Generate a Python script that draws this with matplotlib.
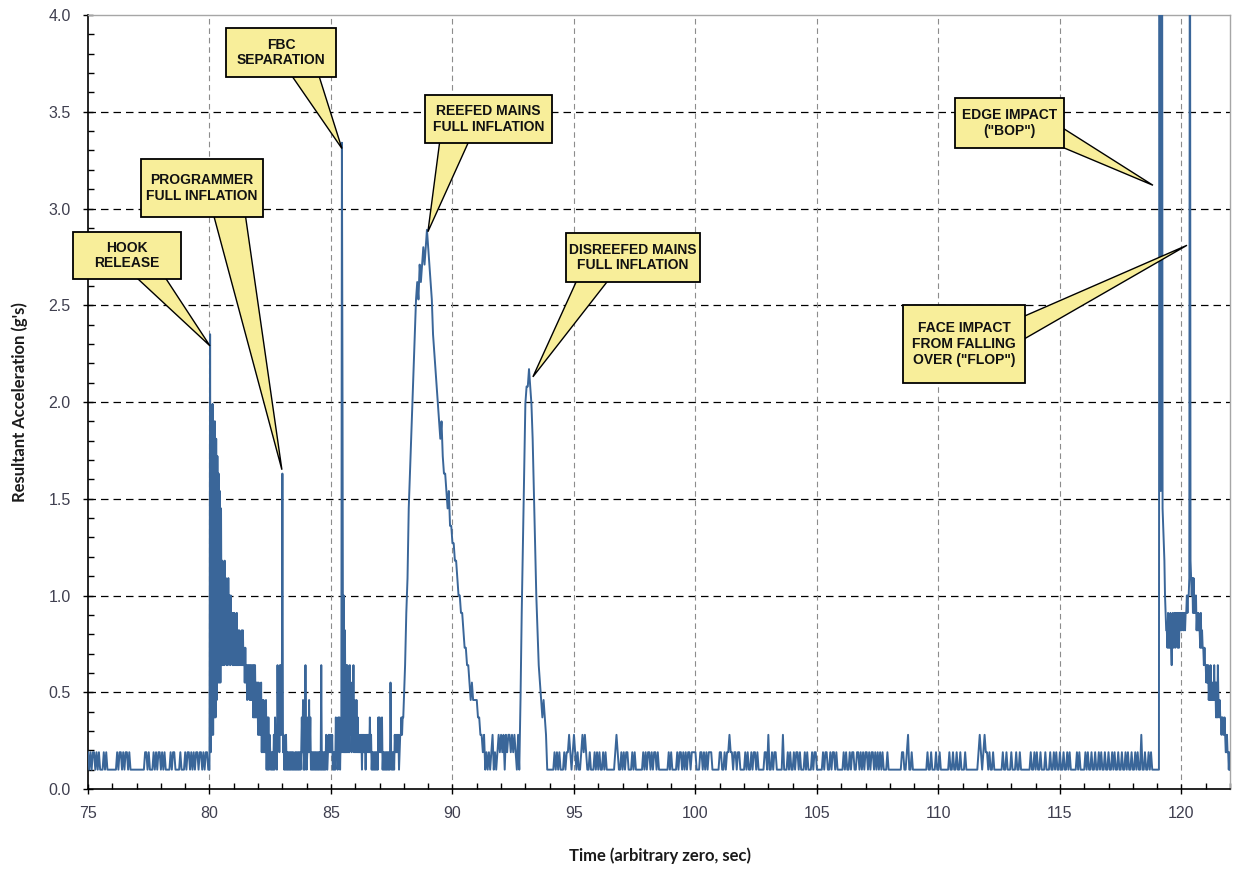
import numpy as np
import matplotlib
matplotlib.use("Agg")
import matplotlib.pyplot as plt
from matplotlib.patches import Rectangle, Polygon
from matplotlib.ticker import MultipleLocator

# ---------------- data ----------------
# Signal. Each segment starts at seg_start_times[i] and is
# sampled every seg_dt[i] seconds. Each character is a quantised level:
# value = LEVEL_BASE + LEVEL_STEP * LEVEL_CODES.index(char)
LEVEL_CODES = "0123456789abcdefghijklmnopqrstuvwxyzABCDEFGHIJKLMNOPQRSTUVWXYZ"
LEVEL_BASE = 0.10
LEVEL_STEP = 0.09

seg_start_times = [75.0, 80.0, 88.0, 90.0, 95.0, 100.0, 105.0, 110.0, 115.0, 119.0]
seg_dt = [0.05, 0.025, 0.05, 0.05, 0.05, 0.05, 0.05, 0.05, 0.05, 0.025]

seg_075 = ("1010110101 0001010000 0000101101 0110100000 0000000110 "
           "1000101011 0101000010 1100001000 1011010101 1011010110")
seg_080 = ("0p1k2l2k3k3j4i5h5g5f 6c6b6c7b6a6b7a6a7969 69686968686768686757 "
           "56465646464636363535 25242514141314030302 10101020311062516262 "
           "h1201020101010101010 01010101010131401061 01314130101010101010 "
           "10106010101021012121 212010103120313021Al 1a181616151625142614 "
           "31413121212021212021 21213120101010101031 31213010101010101051 "
           "01010212121201223233")
seg_088 = ("469bfhjlnp rsrtstutuv utsrponmlk jkihhgfgee")
seg_090 = ("ddccbaa998 7766545444 4332212010 1012010121 2120212212 "
           "12102049dh lmmnmljgda 8654343200 0000101010 0010112101")
seg_095 = ("2101001212 1001000101 0100101000 0000121001 0101100010 "
           "1000000101 0110101101 0000000010 1000010110 1010110111")
seg_100 = ("1000110101 0111000000 1100101121 1011011000 0101001011 "
           "0100000110 2001011000 0020001010 0101101000 1010001011")
seg_105 = ("0000010110 0101101000 0010100101 1001101010 1101011010 "
           "1010100010 0000000000 1100120010 0000000000 0100100010")
seg_110 = ("0100000001 0010010010 0010000000 0001210121 1010010000 "
           "0001001000 1000100100 0000001001 0100100010 0010010100")
seg_115 = ("1001001010 0000101000 0101001001 0010100100 1001010010 "
           "0100101001 0010100200 1001010000")
seg_119 = ("0000ZigiZfedca988797 87976897897989797989 899899899a9aabZcbab9 "
           "b9a9a898988797877676 65656454645454645353 64343323322321121101 0")

segments = [seg_075, seg_080, seg_088, seg_090, seg_095,
            seg_100, seg_105, seg_110, seg_115, seg_119]

x_ticks = [75, 80, 85, 90, 95, 100, 105, 110, 115, 120]
y_ticks = [0.0, 0.5, 1.0, 1.5, 2.0, 2.5, 3.0, 3.5, 4.0]

callout_texts = ["HOOK\nRELEASE",
                 "PROGRAMMER\nFULL INFLATION",
                 "FBC\nSEPARATION",
                 "REEFED MAINS\nFULL INFLATION",
                 "DISREEFED MAINS\nFULL INFLATION",
                 "EDGE IMPACT\n(\"BOP\")",
                 "FACE IMPACT\nFROM FALLING\nOVER (\"FLOP\")"]
# event points the callouts point to (time, g)
callout_tips = [(80.02, 2.29), (82.98, 1.65), (85.45, 3.31), (88.99, 2.88),
                (93.31, 2.13), (118.83, 3.12), (120.23, 2.81)]

# ---------------- decode ----------------
times, values = [], []
for start, dt, codes in zip(seg_start_times, seg_dt, segments):
    codes = codes.replace(" ", "")
    for i, c in enumerate(codes):
        times.append(start + dt * i)
        values.append(LEVEL_BASE + LEVEL_STEP * LEVEL_CODES.index(c))
times = np.array(times)
values = np.array(values)

# ---------------- figure ----------------
W, H = 1233, 869
fig = plt.figure(figsize=(W / 100, H / 100), dpi=100)
ax = fig.add_axes([88 / W, 1 - 789 / H, (1230 - 88) / W, (789 - 15) / H])

LINE_COLOR = "#3a6699"
ax.plot(times, values, color=LINE_COLOR, lw=1.4, zorder=3)

ax.set_xlim(75, 122)
ax.set_ylim(0, 4)
ax.xaxis.set_minor_locator(MultipleLocator(1))
ax.yaxis.set_minor_locator(MultipleLocator(0.1))
ax.set_xticks(x_ticks)
ax.set_xticklabels([str(v) for v in x_ticks])
ax.set_yticks(y_ticks)
ax.set_yticklabels([f"{v:.1f}" for v in y_ticks])

TICK_COLOR = "#3f3f4f"
ax.tick_params(axis="x", which="major", direction="inout", length=7, width=1,
               pad=9, labelsize=11.5, labelcolor=TICK_COLOR)
ax.tick_params(axis="y", which="major", direction="inout", length=7, width=1,
               pad=9, labelsize=11.5, labelcolor=TICK_COLOR)
ax.tick_params(which="minor", direction="in", length=4, width=1)
for lab in ax.get_xticklabels() + ax.get_yticklabels():
    lab.set_family("Liberation Sans")

# grid
for v in y_ticks[1:-1]:
    ax.axhline(v, color="black", lw=0.9, ls=(0, (6, 4)), zorder=1)
for v in x_ticks[1:]:
    ax.axvline(v, color="#8c8c8c", lw=0.8, ls=(0, (5, 3.5)), zorder=1)

for side in ("left", "bottom"):
    ax.spines[side].set_color("black")
    ax.spines[side].set_linewidth(1.2)
for side in ("top", "right"):
    ax.spines[side].set_color("#a6a6a6")
    ax.spines[side].set_linewidth(1.0)

ax.set_xlabel("Time (arbitrary zero, sec)", fontsize=12, fontweight="bold",
              family="Lato", color="#1a1a1a")
ax.set_ylabel("Resultant Acceleration (g's)", fontsize=12, fontweight="bold",
              family="Lato", color="#1a1a1a")
ax.xaxis.set_label_coords(0.5005, -0.075)
ax.yaxis.set_label_coords(-0.0525, 0.5)

# ---------------- callouts ----------------
FILL = "#f8ee9a"
# box: (x0, x1, y0, y1) in data coords; wedge base points in data coords
callout_boxes = [(74.38, 78.83, 2.636, 2.879),
                 (77.18, 82.20, 2.956, 3.256),
                 (80.68, 85.21, 3.680, 3.933),
                 (88.87, 94.09, 3.339, 3.587),
                 (94.67, 100.19, 2.620, 2.873),
                 (110.68, 115.16, 3.313, 3.571),
                 (108.54, 113.56, 2.098, 2.501)]
wedge_bases = [((76.85, 2.66), (78.09, 2.66)),
               ((80.14, 2.98), (81.46, 2.98)),
               ((83.31, 3.70), (84.47, 3.70)),
               ((89.49, 3.36), (90.72, 3.36)),
               ((95.16, 2.64), (96.48, 2.64)),
               ((115.05, 3.421), (114.85, 3.33)),
               ((113.45, 2.439), (113.45, 2.32))]

for text, tip, box, base in zip(callout_texts, callout_tips, callout_boxes, wedge_bases):
    wedge = Polygon([base[0], tip, base[1]], closed=True, fc=FILL, ec="black",
                    lw=1.0, zorder=5, clip_on=False, joinstyle="miter")
    ax.add_patch(wedge)
    x0, x1, y0, y1 = box
    rect = Rectangle((x0, y0), x1 - x0, y1 - y0, fc=FILL, ec="black", lw=1.3,
                     zorder=6, clip_on=False)
    ax.add_patch(rect)
    ax.text((x0 + x1) / 2, (y0 + y1) / 2, text, ha="center", va="center",
            fontsize=10, fontweight="bold", family="Liberation Sans",
            linespacing=1.15, zorder=7, color="#111111")

fig.savefig("out.png", dpi=100)
